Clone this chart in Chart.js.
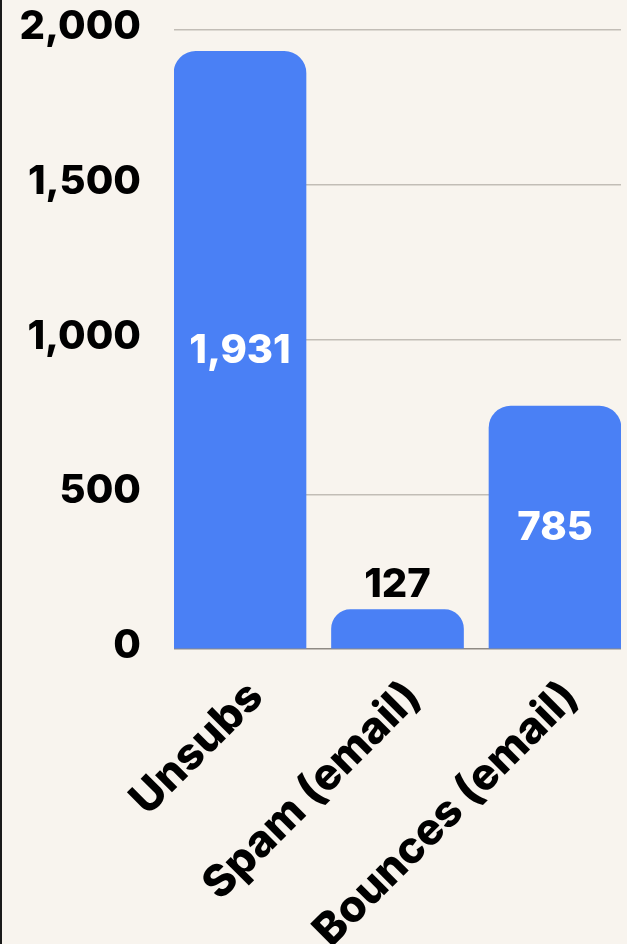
<!DOCTYPE html>
<html>
<head>
<meta charset="utf-8">
<script src="https://cdn.jsdelivr.net/npm/chart.js@4/dist/chart.umd.min.js"></script>
<style>
  html, body { margin: 0; padding: 0; background: #f8f4ee; overflow: hidden; }
  #wrap { position: relative; width: 627px; height: 944px; }
  #edge { position: absolute; left: 0; top: 0; width: 2px; height: 944px; background: #1a1a1a; }
  canvas { display: block; }
</style>
</head>
<body>
<div id="wrap">
  <canvas id="c" width="627" height="944"></canvas>
  <div id="edge"></div>
</div>
<script>
const categories = ['Unsubs', 'Spam (email)', 'Bounces (email)'];
const values = [1931, 127, 785];
const yTicks = [0, 500, 1000, 1500, 2000];

const FONT = 'Inter';
const WEIGHT = '800';
const barColor = '#4a80f5';

const valueLabels = {
  id: 'valueLabels',
  afterDatasetsDraw(chart) {
    const ctx = chart.ctx;
    const meta = chart.getDatasetMeta(0);
    ctx.save();
    ctx.font = WEIGHT + ' 40px ' + FONT;
    ctx.textAlign = 'center';
    meta.data.forEach((bar, i) => {
      const txt = values[i].toLocaleString('en-US');
      const h = bar.base - bar.y;
      if (h > 90) {
        ctx.fillStyle = '#ffffff';
        ctx.textBaseline = 'middle';
        ctx.fillText(txt, bar.x, (bar.y + bar.base) / 2 + 1);
      } else {
        ctx.fillStyle = '#000000';
        ctx.textBaseline = 'alphabetic';
        ctx.fillText(txt, bar.x, bar.y - 13);
      }
    });
    ctx.restore();
  }
};

new Chart(document.getElementById('c'), {
  type: 'bar',
  data: {
    datasets: [{
      data: values.map((v, i) => ({ x: i, y: v })),
      backgroundColor: barColor,
      borderWidth: 0,
      borderRadius: { topLeft: 22, topRight: 22, bottomLeft: 0, bottomRight: 0 },
      borderSkipped: 'start',
      barThickness: 132
    }]
  },
  options: {
    responsive: false,
    animation: false,
    layout: { padding: { top: 30, right: 6, bottom: 0, left: 0 } },
    plugins: { legend: { display: false }, tooltip: { enabled: false } },
    scales: {
      x: {
        type: 'linear',
        offset: false,
        min: -0.419,
        max: 2.419,
        afterBuildTicks: s => { s.ticks = categories.map((c, i) => ({ value: i })); },
        afterFit: s => { s.height = 944 - 649; s.paddingLeft = 0; s.paddingRight = 0; },
        grid: { display: false, offset: false },
        border: { display: false },
        ticks: {
          autoSkip: false,
          minRotation: 45,
          maxRotation: 45,
          padding: 14,
          labelOffset: 16,
          color: '#000',
          font: { family: FONT, size: 44, weight: WEIGHT },
          callback: v => categories[v]
        }
      },
      y: {
        min: 0,
        max: 2000,
        afterBuildTicks: s => { s.ticks = yTicks.map(v => ({ value: v })); },
        afterFit: s => { s.width = 174; s.paddingTop = 0; s.paddingBottom = 0; },
        border: { display: false },
        grid: {
          drawTicks: false,
          lineWidth: 1.5,
          color: c => c.tick && c.tick.value === 0 ? '#8f8a84' : '#c2bdb6'
        },
        ticks: {
          padding: 33,
          labelOffset: -3,
          color: '#000',
          font: { family: FONT, size: 40, weight: WEIGHT },
          callback: v => v.toLocaleString('en-US')
        }
      }
    }
  },
  plugins: [valueLabels]
});
</script>
</body>
</html>
